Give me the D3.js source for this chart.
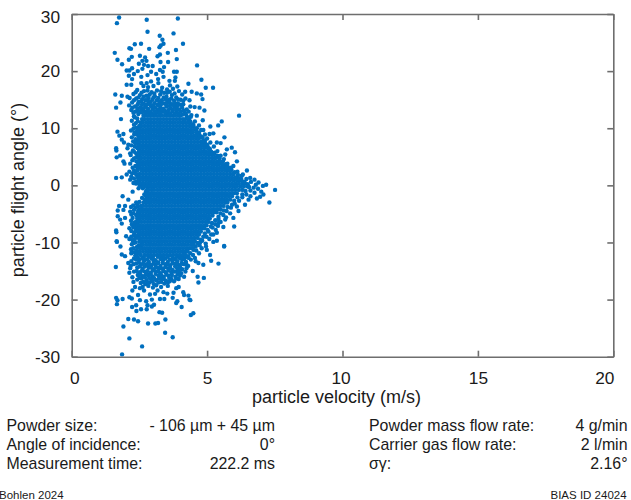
<!DOCTYPE html>
<html>
<head>
<meta charset="utf-8">
<script src="https://cdn.jsdelivr.net/npm/d3@7"></script>
<style>
html, body { margin: 0; padding: 0; background: #fff; overflow: hidden; }
svg { display: block; font-family: "Liberation Sans", Arial, sans-serif; }
</style>
</head>
<body>
<svg id="chart" width="631" height="500"></svg>
<script>
'use strict';

const xTicks = [0, 5, 10, 15, 20];
const yTicks = [-30, -20, -10, 0, 10, 20, 30];

// single particles that can be read one by one: [velocity, angle]
const upperFringe = [[1.75,29.4],[1.67,28.4],[2.77,29],[3.92,29.2],[2.8,26.9],[3.25,26.2],[3.76,26.6],[3.35,25.5],[3.39,24.8],[3.29,24.5],[3.24,24.2],[4.11,24.8],[2.33,24.7],[2.56,24.8],[2.13,24],[2.19,23.9],[2.86,23.9],[1.59,23.2],[3.85,23.7],[3.55,23.2],[3.26,22.9],[3.17,22.6],[2.52,22.7],[2.71,22.4],[2.22,22.5],[2.11,22],[1.69,22],[2.61,21.8],[2.76,21.8],[3.88,22.1],[3.28,21.6],[3.56,21.6],[1.86,21.2],[2.48,21.3],[2.67,21.1],[2.82,20.9],[2.99,20.9],[4.63,21],[3.41,20.7],[2.03,20.1],[2.23,20.5],[2.13,20.1],[2.44,20],[2.61,20.4],[2.93,19.9],[3.12,19.5],[3.26,20.2],[3.36,19.9],[3.78,19.9],[3.88,19.9],[2.3,19.5],[2.8,19.3],[2.11,19.2],[2.57,19],[3.39,19],[3.83,18.9],[2.23,18.6],[3.19,18.6],[3.61,18.3],[3.81,18.3],[4.79,18.5],[4.31,17.8],[2.93,18.2],[2.77,17.9],[2.65,17.4],[2.03,17.6],[2.2,17.6],[3.2,17.9],[3.63,17.5],[3.9,17.3],[4.95,17.1],[5.22,17.1],[4.19,16.4],[4.43,16.4],[4.62,16.1],[4.78,15.9],[1.61,15.9],[1.85,15.7],[2.06,15.5],[4.83,15.1],[1.8,14.5],[1.64,13.6],[4.38,13.8],[4.54,13.7],[4.72,13.6],[4.9,13.1],[6.18,12.2],[1.82,11.6],[5.54,11.2],[5.41,10.5],[5.12,10.3],[4.84,11.4],[4.42,12.3],[4.62,12.2],[4.35,14.9]];

const lowerFringe = [[1.67,-9.9],[1.8,-10.7],[1.85,-12.1],[1.97,-12.4],[1.63,-14.3],[5.63,-10.6],[5.23,-9.9],[5.36,-9.7],[4.99,-11.3],[5.11,-12.2],[5.15,-13.2],[5.42,-13.7],[4.86,-13.9],[4.68,-13.6],[4.47,-15],[4.65,-16],[4.88,-16.2],[4.68,-17],[2.22,-11.6],[2.09,-13.6],[2.16,-14.5],[2.13,-15.3],[2.24,-16.1],[2.28,-16.9],[2.34,-17.8],[2.24,-18.4],[2.52,-18],[2.67,-18.4],[2.45,-19.2],[1.64,-19.7],[1.69,-20.1],[1.67,-20.8],[1.88,-19.9],[2.13,-19.6],[2.22,-19.8],[2.52,-20.1],[2.23,-21.3],[2.38,-21],[2.39,-22],[2.56,-21.7],[2.75,-20.3],[2.8,-21],[2.77,-21.7],[2.96,-21.2],[3.04,-20.9],[2.96,-20],[3.26,-19.9],[3.42,-19.9],[2.89,-19.1],[3.08,-19],[3.17,-18.4],[3.39,-18.7],[3.53,-18.95],[3.73,-19.7],[3.76,-18.8],[3.86,-18],[3.95,-17.8],[3.86,-20.6],[3.9,-20.3],[4.06,-21.3],[4.12,-18.7],[4.15,-19.2],[4.31,-19.3],[4.35,-20],[4.38,-20.1],[4.4,-22.7],[4.49,-22.4],[3.24,-22.2],[3.34,-22.3],[2.09,-23.4],[2.3,-23.5],[2.45,-23.8],[2.82,-24.2],[3.09,-24.2],[3.19,-24.1],[3.46,-23.5],[1.91,-24.7],[3.45,-25.8],[3.73,-26.6],[2.13,-26.8],[2.6,-28.2],[1.86,-29.6]];

const leftFringe = [[1.69,9.4],[1.91,9],[1.76,8.7],[1.85,8],[1.93,7.5],[2.09,7.1],[2.06,6.5],[1.64,6.5],[1.65,6.1],[2.16,5.6],[1.79,5.2],[1.66,4.9],[1.91,4.2],[1.95,3.8],[2.16,3.8],[2.13,2.4],[2.03,1.9],[1.64,1.3],[1.85,1.4],[2.16,1],[2.25,-1.1],[1.88,-1.9],[2.09,-2.5],[1.75,-3.6],[1.97,-3.6],[2.19,-3.8],[1.7,-4.4],[1.91,-4.3],[2.16,-4.6],[1.7,-5.4],[1.79,-6],[1.97,-5.7],[1.85,-6.7],[1.64,-7.9],[1.65,-8.2],[2.13,-7.5],[2.28,-7],[2.01,-8.9],[2.13,-9.4],[1.66,-9.8],[2.28,-10.1]];

const rightFringe = [[5.23,9.1],[5.09,9],[4.86,9.7],[5.64,8.4],[5.36,7.5],[5.5,7.4],[5.91,6.6],[6.03,5.8],[5.73,6.3],[5.67,5.4],[6.1,4.2],[5.97,3.4],[6.47,2.6],[6.32,1.9],[6.59,1.3],[6.75,1],[6.9,0.5],[7.18,0.1],[7.06,-0.1],[7.51,-0.8],[7,-1.1],[7.08,-1.6],[6.96,-2],[6.84,-2.3],[7.3,-3],[6.53,-2.5],[6.4,-3.4],[6.16,-4.5],[5.97,-5.7],[6,-7.2],[5.67,-6],[5.6,-7.3],[5.42,-6.6],[5.36,-8.3],[5.23,-8.6],[5.63,-10.7],[4.96,-10.7],[4.74,-10]];

// rim of the solid area, estimated along its outline
const leftRim = [[2.3,12.1],[2.42,11.7],[2.22,11.3],[2.37,10.9],[2.48,10.2],[2.28,9.9],[2.41,9.5],[2.31,8.9],[2.5,8.6],[2.36,8.1],[2.27,7.7],[2.45,7.3],[2.33,6.8],[2.49,6.3],[2.26,6.1],[2.38,5.6],[2.47,5.1],[2.3,4.7],[2.39,4.2],[2.52,3.9],[2.35,3.4],[2.44,3],[2.3,2.6],[2.23,2.1],[2.4,1.8],[2.3,1.2],[2.46,0.8],[2.38,0.3],[2.52,-0.1],[2.63,-0.5],[2.74,-1.1],[2.68,-1.6],[2.6,-2.2],[2.5,-2.9],[2.42,-3.3],[2.35,-3.9],[2.46,-4.4],[2.28,-4.9],[2.38,-5.2],[2.25,-5.7],[2.44,-6.1],[2.32,-6.5],[2.41,-6.9],[2.27,-7.3],[2.36,-7.8],[2.47,-8.3],[2.3,-8.7],[2.4,-9.1],[2.25,-9.6],[2.36,-10],[2.48,-10.5],[2.28,-11],[2.4,-11.4],[2.2,-11.9],[2.35,-12.3],[2.33,11.9],[2.44,11.2],[2.3,10.6],[2.38,10.1],[2.19,9.6],[2.32,9.2],[2.43,8.9],[2.22,8.4],[2.41,7.9],[2.34,7.4],[2.2,7],[2.42,6.6],[2.3,5.9],[2.18,5.3],[2.38,4.9],[2.24,4.4],[2.44,3.6],[2.25,3.1],[2.33,2.2],[2.46,1.5],[2.2,1.5],[2.38,0.7],[2.28,0.4],[2.47,-0.5],[2.38,-3],[2.27,-3.5],[2.44,-3.7],[2.3,-4.3],[2.2,-5.1],[2.44,-5.6],[2.19,-6.2],[2.38,-6.4],[2.22,-6.8],[2.33,-7.2],[2.42,-7.6],[2.2,-8],[2.31,-8.3],[2.4,-8.8],[2.2,-9],[2.33,-9.4],[2.22,-10.3],[2.41,-10.8],[2.19,-11.2],[2.33,-11.7],[2.44,-12]];

const rightRim = [[4.22,12.4],[4.4,12],[4.33,11.5],[4.55,11.2],[4.48,10.7],[4.7,10.5],[4.62,10],[4.78,9.7],[4.7,9.2],[4.92,8.9],[4.78,8.5],[5,8.2],[4.92,7.8],[5.12,7.5],[5,7.1],[5.25,6.8],[5.1,6.4],[5.38,6],[5.2,5.6],[5.5,5.2],[5.35,4.9],[5.62,4.6],[5.5,4.1],[5.75,3.8],[5.62,3.4],[5.88,3.1],[5.8,2.7],[6.12,2.4],[5.98,2],[6.28,1.7],[6.15,1.3],[6.45,1.1],[6.3,0.7],[6.62,0.6],[6.5,0.2],[6.8,0.1],[6.72,-0.4],[6.88,-0.6],[6.6,-0.9],[6.75,-1.3],[6.45,-1.6],[6.6,-1.9],[6.3,-2.1],[6.18,-2.7],[6.02,-3.2],[6.1,-3.7],[5.88,-3.9],[5.72,-4.5],[5.85,-4.9],[5.6,-5.2],[5.7,-5.6],[5.42,-5.9],[5.5,-6.4],[5.3,-6.8],[5.4,-7.1],[5.2,-7.4],[5.32,-7.8],[5.05,-8.1],[5.15,-8.6],[4.98,-9],[5.08,-9.4],[4.82,-9.7],[4.95,-10.2],[4.72,-10.5],[4.8,-11],[4.6,-11.4],[4.7,-11.9],[4.48,-12.2],[4.55,-12.7],[4.26,12],[4.38,11.2],[4.5,10.4],[4.55,9.9],[4.62,9.4],[4.72,8.8],[4.84,8.3],[4.92,7.4],[5.02,6.8],[5.1,6.1],[5.28,5.7],[5.38,5.2],[5.46,4.7],[5.58,4.2],[5.68,3.7],[5.76,3.2],[5.9,2.7],[6.02,2.3],[6.14,1.8],[6.26,1.1],[6.38,0.6],[6.55,-0.3],[6.42,-1],[6.3,-1.6],[6.12,-2.1],[6,-2.7],[5.92,-3.4],[5.76,-3.8],[5.62,-4.4],[5.5,-4.9],[5.42,-5.5],[5.3,-6.1],[5.18,-6.6],[5.14,-7.2],[5.02,-7.8],[4.92,-8.4],[4.86,-9],[4.76,-9.5],[4.64,-10.1],[4.58,-10.7],[4.5,-11.3],[4.38,-11.9],[4.3,-12.4]];

// thinner parts of the cloud above and below the solid area, estimated
const upperCloud = [[2.57,17.9],[2.82,17.2],[3.02,17.4],[3.34,17.1],[3.52,16.8],[3.74,16.9],[2.42,16.7],[2.67,16.5],[2.95,16.3],[3.15,16.6],[3.41,16.2],[3.62,16.4],[3.96,16.5],[4.08,15.9],[2.28,16],[2.52,15.8],[2.76,15.7],[2.88,15.9],[3.07,15.6],[3.27,15.9],[3.5,15.5],[3.7,15.8],[3.86,15.4],[2.14,15.3],[2.38,15.2],[2.6,15.1],[2.72,14.9],[2.98,15],[3.2,15.3],[3.33,14.9],[3.6,15],[3.78,14.8],[4.02,15],[4.2,15.2],[2.23,14.5],[2.47,14.6],[2.66,14.3],[2.84,14.5],[3.05,14.4],[3.16,14.1],[3.44,14.3],[3.55,14.6],[3.72,14.2],[3.92,14.4],[4.12,14.2],[2.12,14],[2.34,13.8],[2.55,13.7],[2.73,13.8],[2.93,13.9],[3.08,13.6],[3.27,13.7],[3.38,13.4],[3.5,13.8],[3.66,13.5],[3.83,13.7],[3.97,13.3],[4.08,13.6],[4.25,13.3],[2.2,13.2],[2.42,13.1],[2.6,13.2],[2.68,12.9],[3.87,12.8],[4.02,12.9],[4.18,12.7],[4.32,12.9],[2.28,12.7],[2.46,12.5],[2.57,12.8],
  [2.36,16.3],[2.58,16.2],[2.8,16.6],[3.05,16.1],[3.3,16.5],[3.52,16.2],[3.8,16.1],[2.46,15.4],[2.66,15.5],[2.84,15.3],[3.02,15.4],[3.14,14.9],[3.4,15.4],[3.48,15],[3.68,15.2],[3.92,15.1],[4.12,14.8],[2.3,14.9],[2.56,14.7],[2.78,14.9],[2.9,14.6],[3.24,14.6],[3.35,14.4],[3.62,14.5],[3.82,14.3],[4.02,14.1],[2.44,14.2],[2.6,14.2],[2.75,14.1],[2.88,14.2],[3,14],[3.22,14],[3.3,14.2],[3.5,14.1],[3.62,13.9],[3.78,13.9],[3.9,13.9],[2.24,13.6],[2.44,13.5],[2.66,13.5],[2.82,13.4],[2.98,13.4],[3.18,13.3],[3.28,13.1],[3.44,13.1],[3.58,13.2],[3.74,13.2],[3.88,13.3],[4.14,13.1],[2.34,12.9],[2.52,13],[2.78,13],[2.92,12.9],[3.06,13],[3.18,12.8],[3.38,12.9],[3.54,12.8],[3.72,12.9],
  [2.72,12.6],[2.85,12.7],[2.97,12.5],[3.1,12.7],[3.28,12.6],[3.46,12.5],[3.63,12.6],[3.8,12.5],[3.95,12.6],[4.1,12.4]];

const lowerCloud = [[2.3,-12.8],[2.5,-13],[2.44,-12.6],[2.68,-13.1],[2.85,-13.4],[3.02,-13.2],[3.2,-13.5],[3.37,-13.1],[3.55,-13.4],[3.72,-13.1],[3.9,-13.3],[4.08,-13],[4.22,-13.4],[4.4,-13],[4.58,-13.3],[2.2,-13.3],[2.38,-13.7],[2.56,-13.9],[2.76,-13.8],[2.94,-14],[3.1,-13.8],[3.28,-14.1],[3.46,-13.8],[3.64,-14],[3.8,-13.7],[3.98,-14],[4.14,-13.8],[4.3,-14.1],[2.18,-14.1],[2.42,-14.4],[2.62,-14.6],[2.84,-14.4],[3.03,-14.7],[3.18,-14.4],[3.38,-14.6],[3.56,-14.5],[3.72,-14.8],[3.9,-14.5],[4.08,-14.7],[4.24,-14.5],[2.3,-15.1],[2.52,-15.2],[2.7,-15.1],[2.92,-15.3],[3.12,-15.1],[3.27,-15.4],[3.47,-15.2],[3.68,-15.3],[3.85,-15.1],[4.04,-15.4],[4.2,-15.1],[2.44,-15.7],[2.63,-15.9],[2.82,-15.7],[2.99,-16],[3.2,-15.8],[3.4,-16],[3.57,-15.8],[3.83,-16],[4,-15.8],[4.15,-16],[2.42,-16.5],[2.58,-16.3],[2.76,-16.6],[2.93,-16.4],[3.12,-16.6],[3.3,-16.4],[3.48,-16.7],[3.68,-16.4],[3.78,-16.8],[3.95,-16.4],[2.55,-17.1],[2.72,-17.3],[2.88,-17],[3.04,-17.3],[3.2,-17],[3.42,-17.2],[3.55,-17],[2.62,-17.8],[2.83,-17.6],[3,-17.9],[3.12,-17.5],[3.3,-17.8],[3.55,-17.6],
  [2.38,-13],[2.6,-12.8],[2.78,-13],[2.94,-12.8],[3.1,-13.1],[3.28,-12.9],[3.46,-12.8],[3.62,-13],[3.82,-12.9],[4,-12.8],[4.16,-12.9],[4.32,-12.7],[2.28,-13.8],[2.48,-13.5],[2.64,-13.6],[2.86,-13.9],[3.02,-13.7],[3.18,-13.6],[3.36,-13.6],[3.54,-13.8],[3.72,-13.6],[3.9,-13.8],[4.06,-13.6],[4.24,-13.9],[2.5,-14.2],[2.7,-14.2],[2.92,-14.4],[3.1,-14.3],[3.28,-14.5],[3.46,-14.3],[3.64,-14.5],[3.82,-14.2],[4,-14.3],[2.4,-15],[2.6,-14.9],[2.8,-15],[3,-14.9],[3.2,-15],[3.38,-15],[3.58,-14.9],[3.78,-15.1],[3.96,-15],[2.54,-15.6],[2.74,-15.6],[2.92,-15.6],[3.1,-15.5],[3.3,-15.7],[3.5,-15.6],[3.7,-15.7],[3.92,-15.6],[2.5,-16.2],[2.7,-16.1],[2.86,-16.2],[3.04,-16.2],[3.22,-16.3],[3.4,-16.4],[3.6,-16.2],[3.86,-16.3],[2.64,-16.9],[2.8,-17],[2.98,-16.8],[3.3,-16.9],[3.62,-16.8],
  [2.66,-12.6],[2.83,-12.5],[3,-12.7],[3.18,-12.5],[3.37,-12.6],[3.55,-12.5],[3.72,-12.7],[3.9,-12.5],[4.07,-12.6],[4.24,-12.5]];

// the middle is solid, particles cannot be told apart there, these are estimates row by row: [angle, velocities]
const solidRows = [
  [12.2, [2.65,2.75,2.87,2.98,3.1,3.22,3.33,3.45,3.57,3.69,3.81,3.93,4.02]],
  [11.6, [2.6,2.69,2.81,2.92,3.04,3.16,3.27,3.39,3.51,3.63,3.75,3.87,3.99,4.11,4.2]],
  [11, [2.55,2.63,2.75,2.87,2.98,3.1,3.22,3.33,3.45,3.57,3.69,3.81,3.93,4.05,4.17,4.29,4.35]],
  [10.4, [2.5,2.57,2.69,2.81,2.92,3.04,3.16,3.27,3.39,3.51,3.63,3.75,3.87,3.99,4.11,4.23,4.35,4.45]],
  [9.8, [2.45,2.51,2.63,2.75,2.87,2.98,3.1,3.22,3.33,3.45,3.57,3.69,3.81,3.93,4.05,4.17,4.29,4.41,4.55]],
  [9.3, [2.48,2.57,2.69,2.81,2.92,3.04,3.16,3.27,3.39,3.51,3.63,3.75,3.87,3.99,4.11,4.23,4.35,4.47,4.6]],
  [8.7, [2.46,2.51,2.63,2.75,2.87,2.98,3.1,3.22,3.33,3.45,3.57,3.69,3.81,3.93,4.05,4.17,4.29,4.41,4.53,4.65]],
  [8.2, [2.48,2.57,2.69,2.81,2.92,3.04,3.16,3.27,3.39,3.51,3.63,3.75,3.87,3.99,4.11,4.23,4.35,4.47,4.59,4.7]],
  [7.6, [2.42,2.51,2.63,2.75,2.87,2.98,3.1,3.22,3.33,3.45,3.57,3.69,3.81,3.93,4.05,4.17,4.29,4.41,4.53,4.65,4.77,4.85]],
  [7, [2.47,2.57,2.69,2.81,2.92,3.04,3.16,3.27,3.39,3.51,3.63,3.75,3.87,3.99,4.11,4.23,4.35,4.47,4.59,4.71,4.83,4.95]],
  [6.5, [2.44,2.51,2.63,2.75,2.87,2.98,3.1,3.22,3.33,3.45,3.57,3.69,3.81,3.93,4.05,4.17,4.29,4.41,4.53,4.65,4.77,4.89,5.03]],
  [5.9, [2.48,2.57,2.69,2.81,2.92,3.04,3.16,3.27,3.39,3.51,3.63,3.75,3.87,3.99,4.11,4.23,4.35,4.47,4.59,4.71,4.83,4.95,5.07,5.15]],
  [5.4, [2.42,2.51,2.63,2.75,2.87,2.98,3.1,3.22,3.33,3.45,3.57,3.69,3.81,3.93,4.05,4.17,4.29,4.41,4.53,4.65,4.77,4.89,5.01,5.13,5.25]],
  [4.8, [2.48,2.57,2.69,2.81,2.92,3.04,3.16,3.27,3.39,3.51,3.63,3.75,3.87,3.99,4.11,4.23,4.35,4.47,4.59,4.71,4.83,4.95,5.07,5.19,5.3]],
  [4.2, [2.44,2.51,2.63,2.75,2.87,2.98,3.1,3.22,3.33,3.45,3.57,3.69,3.81,3.93,4.05,4.17,4.29,4.41,4.53,4.65,4.77,4.89,5.01,5.13,5.25,5.37,5.45]],
  [3.7, [2.5,2.57,2.69,2.81,2.92,3.04,3.16,3.27,3.39,3.51,3.63,3.75,3.87,3.99,4.11,4.23,4.35,4.47,4.59,4.71,4.83,4.95,5.07,5.19,5.31,5.43,5.55]],
  [3.1, [2.45,2.51,2.63,2.75,2.87,2.98,3.1,3.22,3.33,3.45,3.57,3.69,3.81,3.93,4.05,4.17,4.29,4.41,4.53,4.65,4.77,4.89,5.01,5.13,5.25,5.37,5.49,5.61,5.7]],
  [2.6, [2.42,2.57,2.69,2.81,2.92,3.04,3.16,3.27,3.39,3.51,3.63,3.75,3.87,3.99,4.11,4.23,4.35,4.47,4.59,4.71,4.83,4.95,5.07,5.19,5.31,5.43,5.55,5.67,5.8]],
  [2, [2.38,2.51,2.63,2.75,2.87,2.98,3.1,3.22,3.33,3.45,3.57,3.69,3.81,3.93,4.05,4.17,4.29,4.41,4.53,4.65,4.77,4.89,5.01,5.13,5.25,5.37,5.49,5.61,5.73,5.85,5.95]],
  [1.4, [2.44,2.57,2.69,2.81,2.92,3.04,3.16,3.27,3.39,3.51,3.63,3.75,3.87,3.99,4.11,4.23,4.35,4.47,4.59,4.71,4.83,4.95,5.07,5.19,5.31,5.43,5.55,5.67,5.8,5.92,6.05]],
  [0.9, [2.5,2.63,2.75,2.87,2.98,3.1,3.22,3.33,3.45,3.57,3.69,3.81,3.93,4.05,4.17,4.29,4.41,4.53,4.65,4.77,4.89,5.01,5.13,5.25,5.37,5.49,5.61,5.73,5.85,5.98,6.1,6.2]],
  [0.3, [2.5,2.58,2.69,2.81,2.92,3.04,3.16,3.27,3.39,3.51,3.63,3.75,3.87,3.99,4.11,4.23,4.35,4.47,4.59,4.71,4.83,4.95,5.07,5.19,5.31,5.43,5.55,5.67,5.8,5.92,6.04,6.17,6.3,6.4]],
  [-0.2, [2.62,2.67,2.78,2.87,2.98,3.1,3.22,3.33,3.45,3.57,3.69,3.81,3.93,4.05,4.17,4.29,4.41,4.53,4.65,4.77,4.89,5.01,5.13,5.25,5.37,5.49,5.61,5.73,5.85,5.98,6.1,6.23,6.36,6.5]],
  [-0.8, [2.78,2.83,2.94,3.04,3.16,3.27,3.39,3.51,3.63,3.75,3.87,3.99,4.11,4.23,4.35,4.47,4.59,4.71,4.83,4.95,5.07,5.19,5.31,5.43,5.55,5.67,5.8,5.92,6.04,6.17,6.3]],
  [-1.4, [2.8,2.87,2.98,3.1,3.22,3.33,3.45,3.57,3.69,3.81,3.93,4.05,4.17,4.29,4.41,4.53,4.65,4.77,4.89,5.01,5.13,5.25,5.37,5.49,5.61,5.73,5.85,5.98,6.1]],
  [-1.9, [2.75,2.81,2.92,3.04,3.16,3.27,3.39,3.51,3.63,3.75,3.87,3.99,4.11,4.23,4.35,4.47,4.59,4.71,4.83,4.95,5.07,5.19,5.31,5.43,5.55,5.67,5.8,5.92]],
  [-2.5, [2.7,2.76,2.87,2.98,3.1,3.22,3.33,3.45,3.57,3.69,3.81,3.93,4.05,4.17,4.29,4.41,4.53,4.65,4.77,4.89,5.01,5.13,5.25,5.37,5.49,5.61,5.73,5.85]],
  [-3, [2.65,2.71,2.81,2.92,3.04,3.16,3.27,3.39,3.51,3.63,3.75,3.87,3.99,4.11,4.23,4.35,4.47,4.59,4.71,4.83,4.95,5.07,5.19,5.31,5.43,5.55,5.67,5.75]],
  [-3.6, [2.56,2.63,2.75,2.87,2.98,3.1,3.22,3.33,3.45,3.57,3.69,3.81,3.93,4.05,4.17,4.29,4.41,4.53,4.65,4.77,4.89,5.01,5.13,5.25,5.37,5.49,5.61]],
  [-4.2, [2.5,2.57,2.69,2.81,2.92,3.04,3.16,3.27,3.39,3.51,3.63,3.75,3.87,3.99,4.11,4.23,4.35,4.47,4.59,4.71,4.83,4.95,5.07,5.19,5.31,5.43,5.5]],
  [-4.7, [2.45,2.51,2.63,2.75,2.87,2.98,3.1,3.22,3.33,3.45,3.57,3.69,3.81,3.93,4.05,4.17,4.29,4.41,4.53,4.65,4.77,4.89,5.01,5.13,5.25,5.35]],
  [-5.3, [2.48,2.57,2.69,2.81,2.92,3.04,3.16,3.27,3.39,3.51,3.63,3.75,3.87,3.99,4.11,4.23,4.35,4.47,4.59,4.71,4.83,4.95,5.07,5.2]],
  [-5.8, [2.42,2.51,2.63,2.75,2.87,2.98,3.1,3.22,3.33,3.45,3.57,3.69,3.81,3.93,4.05,4.17,4.29,4.41,4.53,4.65,4.77,4.89,5.01,5.1]],
  [-6.4, [2.47,2.57,2.69,2.81,2.92,3.04,3.16,3.27,3.39,3.51,3.63,3.75,3.87,3.99,4.11,4.23,4.35,4.47,4.59,4.71,4.83,4.95,5.05]],
  [-7, [2.44,2.51,2.63,2.75,2.87,2.98,3.1,3.22,3.33,3.45,3.57,3.69,3.81,3.93,4.05,4.17,4.29,4.41,4.53,4.65,4.77,4.89,4.98]],
  [-7.5, [2.48,2.57,2.69,2.81,2.92,3.04,3.16,3.27,3.39,3.51,3.63,3.75,3.87,3.99,4.11,4.23,4.35,4.47,4.59,4.71,4.83,4.9]],
  [-8.1, [2.44,2.51,2.63,2.75,2.87,2.98,3.1,3.22,3.33,3.45,3.57,3.69,3.81,3.93,4.05,4.17,4.29,4.41,4.53,4.65,4.77]],
  [-8.6, [2.5,2.57,2.69,2.81,2.92,3.04,3.16,3.27,3.39,3.51,3.63,3.75,3.87,3.99,4.11,4.23,4.35,4.47,4.59,4.7]],
  [-9.2, [2.47,2.51,2.63,2.75,2.87,2.98,3.1,3.22,3.33,3.45,3.57,3.69,3.81,3.93,4.05,4.17,4.29,4.41,4.53,4.65]],
  [-9.8, [2.5,2.57,2.69,2.81,2.92,3.04,3.16,3.27,3.39,3.51,3.63,3.75,3.87,3.99,4.11,4.23,4.35,4.47,4.55]],
  [-10.4, [2.58,2.63,2.75,2.87,2.98,3.1,3.22,3.33,3.45,3.57,3.69,3.81,3.93,4.05,4.17,4.29,4.41,4.5]],
  [-11, [2.52,2.57,2.69,2.81,2.92,3.04,3.16,3.27,3.39,3.51,3.63,3.75,3.87,3.99,4.11,4.23,4.35,4.45]],
  [-11.6, [2.5,2.63,2.75,2.87,2.98,3.1,3.22,3.33,3.45,3.57,3.69,3.81,3.93,4.05,4.17,4.28]],
  [-12.2, [2.55,2.69,2.81,2.92,3.04,3.16,3.27,3.39,3.51,3.63,3.75,3.87,3.99,4.11,4.2]]
];

const infoLeft = [
  ["Powder size:", "- 106 µm + 45 µm"],
  ["Angle of incidence:", "0°"],
  ["Measurement time:", "222.2 ms"]
];
const infoRight = [
  ["Powder mass flow rate:", "4 g/min"],
  ["Carrier gas flow rate:", "2 l/min"],
  ["σγ:", "2.16°"]
];

const dotColor = "#006fbf";
const axisColor = "#6e6e6e";
const textColor = "#1a1a1a";

const svg = d3.select("#chart");

const x = d3.scaleLinear().domain([0, 20]).range([71.7, 613.3]);
const y = d3.scaleLinear().domain([-30, 30]).range([356.7, 14]);

// scatter first, the frame sits on top of it
let particles = upperFringe.concat(lowerFringe, leftFringe, rightFringe, leftRim, rightRim, upperCloud, lowerCloud);
solidRows.forEach(row => {
    row[1].forEach(v => particles.push([v, row[0]]));
});

svg.append("g")
    .selectAll("circle")
    .data(particles)
    .join("circle")
    .attr("cx", d => x(d[0]))
    .attr("cy", d => y(d[1]))
    .attr("r", 2.2)
    .attr("fill", dotColor);

function styleAxis(g) {
    g.selectAll(".domain, .tick line")
        .attr("stroke", axisColor)
        .attr("stroke-width", 1.6);
    g.selectAll("text")
        .attr("fill", textColor)
        .attr("font-family", '"Liberation Sans", Arial, sans-serif')
        .attr("font-size", 17.3);
}

const xAxis = svg.append("g")
    .attr("transform", `translate(0,${y(-30)})`)
    .call(d3.axisBottom(x).tickValues(xTicks).tickSize(-6).tickSizeOuter(0).tickPadding(15.5).tickFormat(String))
    .call(styleAxis);

// the labels at both ends do not sit centred on their ticks in the original
xAxis.selectAll(".tick text")
    .attr("dx", d => d === 0 ? 2.5 : d === 20 ? -9 : d === 10 ? -2 : 0);

const yAxis = svg.append("g")
    .attr("transform", `translate(${x(0)},0)`)
    .call(d3.axisLeft(y).tickValues(yTicks).tickSize(-6).tickSizeOuter(0).tickPadding(11.7).tickFormat(String))
    .call(styleAxis);

yAxis.selectAll(".tick text")
    .attr("dy", d => d === 30 ? "0.5em" : "0.32em");

svg.append("g")
    .attr("transform", `translate(0,${y(30)})`)
    .call(d3.axisTop(x).tickValues(xTicks).tickSize(-6).tickSizeOuter(0).tickFormat(""))
    .call(styleAxis);

svg.append("g")
    .attr("transform", `translate(${x(20)},0)`)
    .call(d3.axisRight(y).tickValues(yTicks).tickSize(-6).tickSizeOuter(0).tickFormat(""))
    .call(styleAxis);

svg.append("text")
    .attr("x", 336.5)
    .attr("y", 403)
    .attr("text-anchor", "middle")
    .attr("font-size", 18)
    .attr("fill", textColor)
    .text("particle velocity (m/s)");

svg.append("text")
    .attr("transform", "translate(24,190) rotate(-90)")
    .attr("text-anchor", "middle")
    .attr("font-size", 18)
    .attr("fill", textColor)
    .text("particle flight angle (°)");

function drawInfo(rows, labelX, valueX) {
    const g = svg.append("g")
        .attr("font-size", 15.9)
        .attr("fill", textColor);
    rows.forEach((row, i) => {
        const baseline = 431 + i * 19;
        g.append("text").attr("x", labelX).attr("y", baseline).text(row[0]);
        g.append("text").attr("x", valueX).attr("y", baseline).attr("text-anchor", "end").text(row[1]);
    });
}
drawInfo(infoLeft, 6.5, 275);
drawInfo(infoRight, 369, 627.5);

svg.append("text").attr("x", -1).attr("y", 498.5).attr("font-size", 11.5).attr("fill", textColor).text("Bohlen 2024");
svg.append("text").attr("x", 550.5).attr("y", 498.5).attr("font-size", 11.5).attr("fill", textColor).text("BIAS ID 24024");
</script>
</body>
</html>
